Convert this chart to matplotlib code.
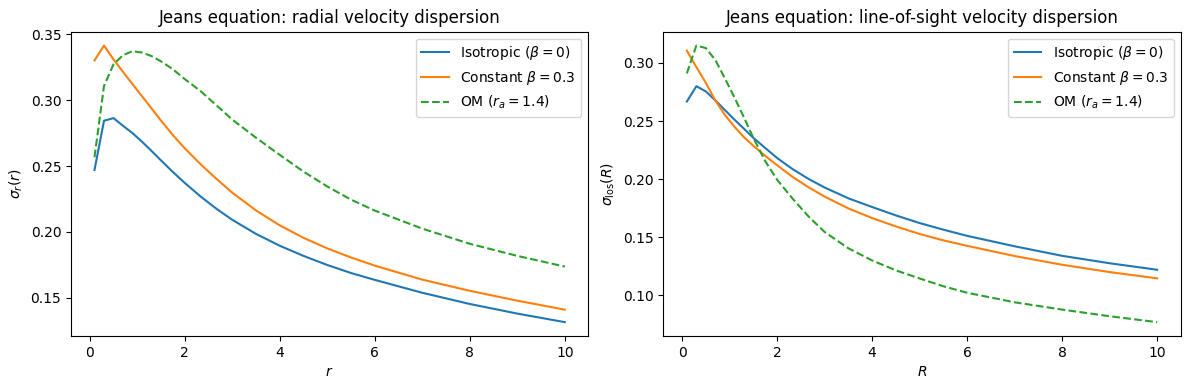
import matplotlib
matplotlib.use("Agg")
import matplotlib.pyplot as plt

# radius grid (same for both panels)
r = [0.1, 0.3, 0.5, 0.7, 0.9, 1.1, 1.3, 1.5, 1.75, 2.0, 2.33, 2.67, 3.0,
     3.5, 4.0, 4.5, 5.0, 5.5, 6.0, 7.0, 8.0, 9.0, 10.0]

# radial dispersion sigma_r(r)
sr_iso = [0.247, 0.2844, 0.2864, 0.2806, 0.275, 0.2685, 0.2615, 0.2543,
          0.2455, 0.2372, 0.227, 0.2175, 0.2092, 0.1985, 0.1895, 0.1818,
          0.1749, 0.1688, 0.1636, 0.1538, 0.1453, 0.138, 0.1315]
sr_beta = [0.3302, 0.3415, 0.331, 0.3215, 0.3122, 0.303, 0.2938, 0.2845,
           0.2735, 0.2635, 0.2515, 0.2402, 0.2298, 0.2163, 0.205, 0.1955,
           0.1875, 0.1806, 0.1744, 0.1638, 0.1553, 0.1478, 0.141]
sr_om = [0.2567, 0.3108, 0.3272, 0.3342, 0.3372, 0.3362, 0.3335, 0.3295,
         0.3235, 0.316, 0.307, 0.296, 0.2853, 0.2715, 0.2585, 0.2458,
         0.2345, 0.2245, 0.2162, 0.2025, 0.191, 0.1818, 0.1737]

# line-of-sight dispersion sigma_los(R)
sl_iso = [0.2668, 0.28, 0.2755, 0.2678, 0.2595, 0.2513, 0.2435, 0.2355,
          0.2268, 0.2182, 0.2085, 0.2, 0.1928, 0.1835, 0.176, 0.1688,
          0.1622, 0.1565, 0.1512, 0.1422, 0.134, 0.1276, 0.122]
sl_beta = [0.3106, 0.2965, 0.2828, 0.2677, 0.2553, 0.2452, 0.2362, 0.2287,
           0.22, 0.212, 0.2018, 0.1928, 0.185, 0.1748, 0.1665, 0.1593,
           0.1528, 0.1473, 0.1426, 0.1338, 0.1263, 0.12, 0.1146]
sl_om = [0.291, 0.315, 0.3128, 0.3025, 0.2868, 0.2705, 0.2533, 0.2355,
         0.2155, 0.1995, 0.183, 0.1675, 0.1545, 0.1405, 0.13, 0.1215,
         0.1145, 0.1078, 0.1022, 0.094, 0.0877, 0.082, 0.0769]

labels = [r"Isotropic ($\beta=0$)", r"Constant $\beta=0.3$", r"OM ($r_a=1.4$)"]

fig, (ax1, ax2) = plt.subplots(1, 2, figsize=(11.89, 3.9), dpi=100)
fig.subplots_adjust(left=0.0597, right=0.993, bottom=0.1385, top=0.9187,
                    wspace=0.145)

ax1.plot(r, sr_iso, label=labels[0])
ax1.plot(r, sr_beta, label=labels[1])
ax1.plot(r, sr_om, "--", label=labels[2])
ax1.set_xlabel(r"$r$")
ax1.set_ylabel(r"$\sigma_r(r)$")
ax1.set_title("Jeans equation: radial velocity dispersion")
ax1.legend(loc="upper right")

ax2.plot(r, sl_iso, label=labels[0])
ax2.plot(r, sl_beta, label=labels[1])
ax2.plot(r, sl_om, "--", label=labels[2])
ax2.set_xlabel(r"$R$")
ax2.set_ylabel(r"$\sigma_{\rm los}(R)$")
ax2.set_title("Jeans equation: line-of-sight velocity dispersion")
ax2.legend(loc="upper right")

fig.savefig("out.png", dpi=100)
